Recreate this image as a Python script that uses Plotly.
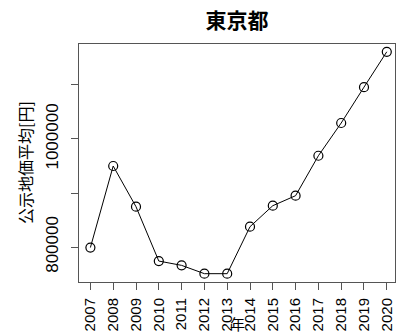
import plotly.graph_objects as go

# 東京都 公示地価 年平均
years = [2007, 2008, 2009, 2010, 2011, 2012, 2013, 2014, 2015, 2016, 2017, 2018, 2019, 2020]
price = [799000, 950000, 874600, 774000, 766000, 750600, 750600,
         837600, 876500, 895000, 969000, 1029600, 1096000, 1161500]

y_ticks = [800000, 900000, 1000000, 1100000]
y_tick_text = ["800000", "", "1000000", ""]

font_latin = "Liberation Sans, Arial, Noto Sans CJK JP"
font_jp = "Noto Sans CJK JP, Liberation Sans"

fig = go.Figure()
fig.add_trace(go.Scatter(
    x=years, y=price, mode="lines+markers",
    line=dict(color="black", width=1),
    marker=dict(symbol="circle-open", size=9, color="black", line=dict(width=1.2)),
    showlegend=False,
))

fig.update_layout(
    width=400, height=335,
    margin=dict(l=79, r=5, t=44, b=53),
    paper_bgcolor="white", plot_bgcolor="white",
    title=dict(text="<b>東京都</b>", x=0.5, xref="paper", y=1 - 21 / 335,
               yref="container", xanchor="center", yanchor="middle",
               font=dict(family=font_jp, size=21, color="black")),
    annotations=[
        dict(text="公示地価平均[円]", textangle=-90, xref="paper", yref="paper",
             x=(25 - 79) / 316, y=0.5, xanchor="center", yanchor="middle",
             showarrow=False, font=dict(family=font_jp, size=16, color="black")),
        dict(text="年", xref="paper", yref="paper",
             x=0.5, y=0, yshift=-(335 - 282), xanchor="center", yanchor="bottom",
             showarrow=False, borderpad=0,
             font=dict(family=font_jp, size=15, color="black")),
    ],
)

fig.update_xaxes(
    range=[2006.5, 2020.36], tickvals=years, ticktext=[str(y) for y in years],
    tickangle=-90, ticks="outside", ticklen=7, tickcolor="#555", tickwidth=1,
    tickfont=dict(family=font_latin, size=15, color="black"),
    ticklabelstandoff=2,
    showgrid=False, zeroline=False,
    showline=True, linecolor="#555", linewidth=1, mirror=True,
)
fig.update_yaxes(
    range=[735200, 1175900], tickvals=y_ticks, ticktext=y_tick_text,
    tickangle=-90, ticks="outside", ticklen=7, tickcolor="#555", tickwidth=1,
    tickfont=dict(family=font_latin, size=17, color="black"),
    ticklabelstandoff=6,
    showgrid=False, zeroline=False,
    showline=True, linecolor="#555", linewidth=1, mirror=True,
)

fig.write_html("out.html")
